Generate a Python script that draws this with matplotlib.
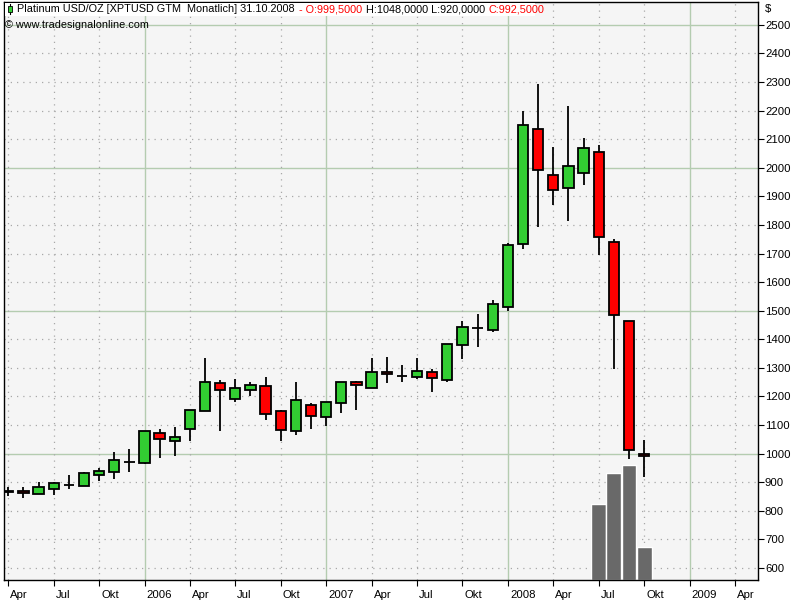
import matplotlib
matplotlib.use("Agg")
import matplotlib.pyplot as plt
import matplotlib.transforms as mtrans
from matplotlib.patches import Rectangle

plt.rcParams['font.family'] = ['Liberation Sans', 'DejaVu Sans']

# monthly candles, Apr 2005 .. Oct 2008
opens = [866, 869, 860, 877, 890, 888, 924, 935, 971,
         966, 1071, 1043, 1085, 1148, 1246, 1190, 1224, 1236, 1148, 1078, 1169,
         1127, 1176, 1250, 1231, 1285, 1272, 1267, 1285, 1257, 1379, 1440, 1434,
         1514, 1733, 2135, 1974, 1929, 1981, 2055, 1740, 1463, 999.5]
highs = [883, 883, 901, 901, 925, 935, 950, 1006, 1016,
         1078, 1086, 1093, 1152, 1335, 1258, 1261, 1251, 1268, 1154, 1251, 1176,
         1180, 1250, 1253, 1334, 1337, 1309, 1334, 1295, 1383, 1464, 1489, 1538,
         1736, 2199, 2293, 2074, 2216, 2103, 2079, 1750, 1463, 1048]
lows = [852, 846, 860, 855, 877, 888, 904, 912, 937,
        964, 986, 993, 1045, 1148, 1080, 1182, 1203, 1119, 1045, 1066, 1087,
        1098, 1143, 1154, 1229, 1246, 1252, 1260, 1214, 1252, 1332, 1374, 1427,
        1500, 1717, 1794, 1871, 1815, 1941, 1696, 1295, 980, 920]
closes = [868, 861, 883, 896, 890, 931, 938, 977, 971,
          1078, 1050, 1057, 1152, 1250, 1222, 1229, 1239, 1138, 1082, 1187, 1133,
          1180, 1250, 1239, 1285, 1278, 1272, 1288, 1264, 1383, 1442, 1440, 1523,
          1729, 2149, 1991, 1922, 2006, 2069, 1757, 1484, 1012, 992.5]

# volume overlay (bar tops on price scale), Jul..Oct 2008
vol_months = [39, 40, 41, 42]
vol_tops = [824, 932, 960, 673]

tick_pos = list(range(0, 49, 3))
tick_labels = ["Apr", "Jul", "Okt", "2006", "Apr", "Jul", "Okt", "2007",
               "Apr", "Jul", "Okt", "2008", "Apr", "Jul", "Okt", "2009", "Apr"]
year_pos = [9, 21, 33, 45]

price_ticks = list(range(600, 2501, 100))
major_prices = [1000, 1500, 2000, 2500]

GREEN = "#32CD32"
RED = "#FF0000"
GRID_SOLID = "#B4CCB0"
GRID_DOT = "#A8A8A8"
FS = 8.2
HFS = 7.8

fig = plt.figure(figsize=(8, 6), dpi=100)
fig.patch.set_facecolor("white")
ax = fig.add_axes([4 / 800, 20 / 600, 754 / 800, 578 / 600])
ax.set_facecolor("#F5F5F5")

ax.set_xlim(-0.28, 49.52)
ax.set_ylim(558, 2580)

# grid
for p in price_ticks:
    if p in major_prices:
        ax.axhline(p, color=GRID_SOLID, lw=1.0, zorder=0)
    else:
        ax.axhline(p, color=GRID_DOT, lw=0.9, ls=(0, (1, 4)), zorder=0)
for t in tick_pos:
    if t in year_pos:
        ax.axvline(t, color=GRID_SOLID, lw=1.0, zorder=0)
    else:
        ax.axvline(t, color=GRID_DOT, lw=0.9, ls=(0, (1, 4)), zorder=0)

# volume bars
ax.bar(vol_months, [v - 558 for v in vol_tops], bottom=558, width=0.98,
       color="#696969", edgecolor="white", lw=1.0, zorder=1)

# candles
bw = 0.68
for i in range(len(opens)):
    o, h, l, c = opens[i], highs[i], lows[i], closes[i]
    ax.plot([i, i], [l, h], color="black", lw=1.3, zorder=2,
            solid_capstyle="butt")
    col = GREEN if c > o else (RED if c < o else "black")
    lo, hi = min(o, c), max(o, c)
    ax.add_patch(Rectangle((i - bw / 2, lo), bw, hi - lo, facecolor=col,
                           edgecolor="black", lw=1.3, zorder=3))

# axes look
for s in ax.spines.values():
    s.set_color("black")
    s.set_linewidth(1.0)
ax.yaxis.tick_right()
ax.set_yticks(price_ticks)
ax.set_yticklabels([str(p) for p in price_ticks], fontsize=FS)
ax.tick_params(axis="y", direction="out", length=4, width=0.8, pad=1)
ax.set_xticks(tick_pos)
ax.set_xticklabels(tick_labels, fontsize=FS, ha="left")
ax.tick_params(axis="x", direction="out", length=4, width=0.8, pad=3)
offset = mtrans.ScaledTranslation(2 / 100, 0, fig.dpi_scale_trans)
for lab in ax.get_xticklabels():
    lab.set_transform(lab.get_transform() + offset)

fig.text(765 / 800, 1 - 9 / 600, "$", fontsize=FS, va="center", ha="left")

# header
fig.patches.append(Rectangle((5 / 800, 1 - 16 / 600), 530 / 800, 13 / 600,
                             transform=fig.transFigure, facecolor="white",
                             edgecolor="none", zorder=4))
fig.lines.append(plt.Line2D([10 / 800, 10 / 800], [1 - 14 / 600, 1 - 4 / 600],
                            transform=fig.transFigure, color="black", lw=0.8,
                            zorder=5))
fig.patches.append(Rectangle((8 / 800, 1 - 12 / 600), 4 / 800, 6 / 600,
                             transform=fig.transFigure, facecolor=GREEN,
                             edgecolor="black", lw=0.6, zorder=6))

pieces = [("Platinum USD/OZ [XPTUSD GTM  Monatlich] 31.10.2008", "black"),
          ("- O:999,5000", RED),
          ("H:1048,0000 L:920,0000", "black"),
          ("C:992,5000", RED)]
renderer = fig.canvas.get_renderer()
xpx = 17
for txt, col in pieces:
    t = fig.text(xpx / 800, 1 - 9 / 600, txt, fontsize=HFS, color=col,
                 va="center", ha="left", zorder=7)
    bb = t.get_window_extent(renderer=renderer)
    xpx += bb.width + 4
fig.text(5 / 800, 1 - 25 / 600, "\u00a9 www.tradesignalonline.com",
         fontsize=HFS, va="center", ha="left", zorder=7)

fig.savefig("out.png", dpi=100)
